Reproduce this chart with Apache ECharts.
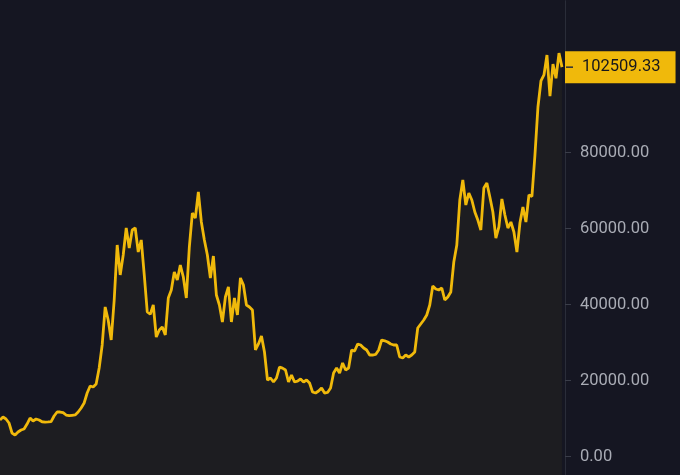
<!DOCTYPE html>
<html>
<head>
<meta charset="utf-8">
<script src="https://cdn.jsdelivr.net/npm/echarts@6/dist/echarts.min.js"></script>
<style>
html,body{margin:0;padding:0;background:#151622;}
#chart{width:680px;height:475px;}
</style>
</head>
<body>
<div id="chart"></div>
<script>
const prices = [
  9660, 10450, 9920, 8870, 6240, 5710, 6500, 7030, 7290, 8600,
  10180, 9400, 9920, 9660, 9200, 9100, 9150, 9250, 10710, 11760,
  11760, 11600, 10970, 10800, 10900, 11000, 11760, 12820, 14130, 16760,
  18600, 18340, 19130, 23340, 29400, 39400, 35970, 30710, 41240, 55710,
  47820, 53080, 60180, 54920, 59660, 60180, 53870, 57030, 47820, 38080,
  37500, 39920, 31500, 33340, 34130, 32030, 41760, 43870, 48600, 46500,
  50450, 47290, 41760, 55180, 64130, 62820, 69660, 61760, 57030, 53080,
  47030, 52820, 42550, 39920, 35450, 42030, 44660, 35450, 41760, 37290,
  47030, 45180, 39920, 39400, 38600, 28080, 29660, 31760, 27550, 20180,
  20710, 19660, 20710, 23600, 23300, 22820, 19660, 21500, 19660, 19900,
  20450, 19660, 20180, 19400, 17030, 16760, 17290, 18080, 16760, 16900,
  18080, 22030, 23340, 22030, 24660, 22820, 23340, 28080, 27800, 29660,
  29400, 28600, 28080, 26760, 26760, 26900, 28080, 30710, 30500, 30180,
  29660, 29400, 29400, 26240, 25970, 26760, 26240, 26760, 27550, 33870,
  34920, 35970, 37290, 39920, 44920, 44130, 43870, 44400, 41240, 42030,
  43340, 51240, 55710, 67550, 72820, 66240, 69400, 67550, 64400, 62290,
  59660, 70710, 72030, 68340, 64400, 57550, 60450, 67820, 63600, 60180,
  61760, 59130, 53870, 61500, 65710, 61760, 68870, 68500, 79400, 92030,
  98870, 100450, 105710, 94900, 103300, 99600, 106200, 102509.33
];
const lastPrice = 102509.33;
const yTicks = [0, 20000, 40000, 60000, 80000, 100000];
// categories: one per sample, plus one empty slot before the price scale
const startDate = new Date('2020-02-27T00:00:00Z');
const categories = [];
for (let i = 0; i <= prices.length; i++) {
  const d = new Date(startDate.getTime() + i * 10 * 86400000);
  categories.push(d.toISOString().slice(0, 10));
}

const chart = echarts.init(document.getElementById('chart'), null, {renderer: 'canvas'});
chart.setOption({
  backgroundColor: '#151622',
  animation: false,
  grid: {left: 0, right: 115, top: 0.7, bottom: -57.7, containLabel: false, outerBoundsMode: 'none'},
  xAxis: {
    type: 'category',
    data: categories,
    boundaryGap: false,
    show: false
  },
  yAxis: {
    type: 'value',
    position: 'right',
    min: -20000,
    max: 120000,
    interval: 20000,
    splitLine: {show: false},
    axisLine: {show: true, lineStyle: {color: '#2a2d39', width: 1}},
    axisTick: {show: true, length: 6, lineStyle: {color: '#3a3d49'}, customValues: yTicks},
    axisLabel: {
      show: true,
      customValues: yTicks,
      margin: 15,
      color: '#a9acb5',
      fontFamily: 'Roboto',
      fontSize: 16.5,
      formatter: function (v) { return (v < 0 || v > 100000) ? '' : Number(v).toFixed(2); }
    }
  },
  series: [{
    type: 'line',
    data: prices,
    symbol: 'none',
    clip: false,
    lineStyle: {color: '#F0B90B', width: 2.8},
    areaStyle: {color: '#1d1d21', opacity: 1, origin: 'start'},
    z: 3,
    markLine: {
      silent: true,
      symbol: 'none',
      animation: false,
      lineStyle: {color: 'rgba(0,0,0,0)', width: 1, type: 'solid'},
      data: [{yAxis: lastPrice}],
      label: {
        show: true,
        position: 'end',
        distance: 0,
        opacity: 1,
        formatter: function () { return '{t|}{v|' + lastPrice.toFixed(2) + '}'; },
        backgroundColor: '#F0B90B',
        padding: [7, 15, 7, 1],
        rich: {
          t: {width: 7, height: 1.5, backgroundColor: '#2a2d39'},
          v: {color: '#16171d', fontFamily: 'Roboto', fontSize: 16.5, lineHeight: 18, padding: [0, 0, 0, 9]}
        }
      }
    }
  }]
});
</script>
</body>
</html>
